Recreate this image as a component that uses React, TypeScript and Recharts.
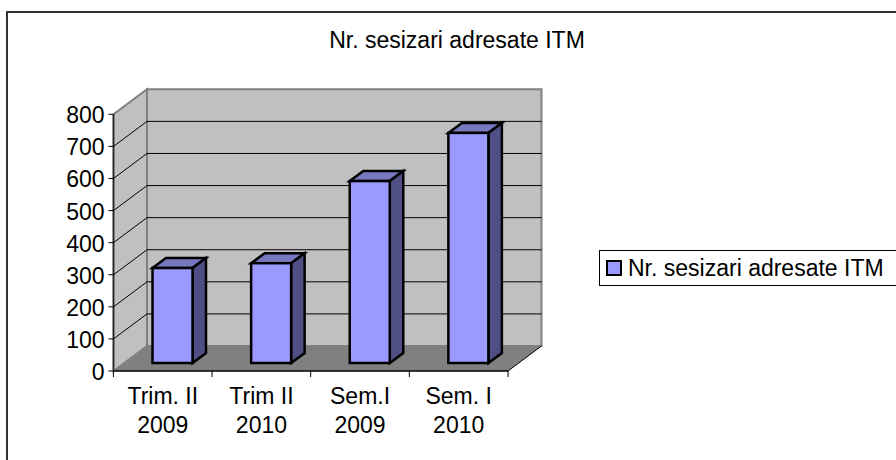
import { Bar, BarChart, CartesianGrid, XAxis, YAxis, usePlotArea } from 'recharts';

const categories = ['Trim. II|2009', 'Trim II|2010', 'Sem.I|2009', 'Sem. I|2010'];
const seriesName = 'Nr. sesizari adresate ITM';
const seriesValues = [296, 311, 567, 717];
const yTicks = [0, 100, 200, 300, 400, 500, 600, 700, 800];

const chartData = categories.map((name, i) => ({ name, value: seriesValues[i] }));

const FONT = '"Liberation Sans", Arial, sans-serif';
const FONT_SIZE = 23;
// 3D look: how far the back wall sits from the front plane
const WALL_DX = 33.5;
const WALL_DY = 25;
// bars stand part of the way into the floor
const BAR_DX = 10;
const BAR_DY = 8;
const BAR_DEPTH_X = 13.5;
const BAR_DEPTH_Y = 10;
const BAND = 98.75;

function Walls() {
  const plot = usePlotArea();
  if (!plot) return null;
  const { x, y, width, height } = plot;
  const left = x;
  const right = x + width;
  const top = y;
  const bottom = y + height;
  const bx = WALL_DX;
  const by = WALL_DY;
  return (
    <g>
      <polygon points={`${left + bx},${top - by} ${right + bx},${top - by} ${right + bx},${bottom - by} ${left + bx},${bottom - by}`} fill="#c0c0c0" stroke="#808080" strokeWidth={2} />
      <polygon points={`${left},${top} ${left + bx},${top - by} ${left + bx},${bottom - by} ${left},${bottom}`} fill="#c0c0c0" stroke="#808080" strokeWidth={2} />
      <polygon points={`${left},${bottom} ${left + bx},${bottom - by} ${right + bx},${bottom - by} ${right},${bottom}`} fill="#808080" />
      <line x1={right} y1={bottom} x2={right + bx} y2={bottom - by} stroke="#000" strokeWidth={1} />
      {/* the grid sits over the axis layer, so the two front edges are drawn here */}
      <line x1={left} y1={top} x2={left} y2={bottom} stroke="#222" strokeWidth={1.5} />
      <line x1={left} y1={bottom} x2={right} y2={bottom} stroke="#000" strokeWidth={1.5} />
    </g>
  );
}

// the grid draws its lines first, so the walls go in with its first line
function gridLine(props: any) {
  const { x1, x2, y1, index } = props;
  if (index === 0) return <Walls key="walls" />;
  if (index === yTicks.length - 1) return <g key="top" />;
  return (
    <path
      key={index}
      d={`M${x1},${y1} L${x1 + WALL_DX},${y1 - WALL_DY} L${x2 + WALL_DX},${y1 - WALL_DY}`}
      fill="none"
      stroke="#000"
      strokeWidth={1}
    />
  );
}

function Bar3D(props: any) {
  const { x, y, width, height } = props;
  const fx = x + BAR_DX;
  const fy = y - BAR_DY;
  const dx = BAR_DEPTH_X;
  const dy = BAR_DEPTH_Y;
  return (
    <g stroke="#000" strokeWidth={2.5} strokeLinejoin="miter">
      <polygon points={`${fx},${fy} ${fx + dx},${fy - dy} ${fx + width + dx},${fy - dy} ${fx + width},${fy}`} fill="#7878c0" />
      <polygon points={`${fx + width},${fy} ${fx + width + dx},${fy - dy} ${fx + width + dx},${fy + height - dy} ${fx + width},${fy + height}`} fill="#4f4f85" />
      <rect x={fx} y={fy} width={width} height={height} fill="#9999ff" />
    </g>
  );
}

function CategoryTick(props: any) {
  const { x, y, payload, index } = props;
  const lines = String(payload.value).split('|');
  const isLast = index === categories.length - 1;
  const axisY = y - 8;
  return (
    <g>
      <line x1={x - BAND / 2} y1={axisY} x2={x - BAND / 2} y2={axisY + 6} stroke="#000" />
      {isLast && <line x1={x + BAND / 2} y1={axisY} x2={x + BAND / 2} y2={axisY + 6} stroke="#000" />}
      <text x={x} y={axisY + 33} textAnchor="middle" fontSize={FONT_SIZE} fontFamily={FONT} fill="#000">
        {lines[0]}
      </text>
      <text x={x} y={axisY + 62} textAnchor="middle" fontSize={FONT_SIZE} fontFamily={FONT} fill="#000">
        {lines[1]}
      </text>
    </g>
  );
}

function ValueTick(props: any) {
  const { x, y, payload } = props;
  return (
    <g>
      <line x1={x + 4} y1={y} x2={x + 9} y2={y} stroke="#000" />
      <text x={x} y={y + 9} textAnchor="end" fontSize={FONT_SIZE} fontFamily={FONT} fill="#000">
        {payload.value}
      </text>
    </g>
  );
}

function LegendBox() {
  return (
    <div
      style={{
        position: 'absolute',
        left: 599,
        top: 250,
        width: 320,
        height: 34,
        border: '1.5px solid #000',
        background: '#fff',
        fontFamily: FONT,
        fontSize: FONT_SIZE,
        color: '#000',
      }}
    >
      <div style={{ position: 'absolute', left: 6, top: 8.5, width: 12, height: 12, background: '#9999ff', border: '2px solid #000' }} />
      <div style={{ position: 'absolute', left: 28, top: 4, lineHeight: '27px', whiteSpace: 'nowrap' }}>{seriesName}</div>
    </div>
  );
}

export default function App() {
  return (
    <div style={{ position: 'absolute', left: 0, top: 0, width: 896, height: 460, overflow: 'hidden', background: '#fff' }}>
      <div style={{ position: 'absolute', left: 6, top: 11, width: 1000, height: 1000, border: '2px solid #333' }} />
      <BarChart
        width={896}
        height={460}
        data={chartData}
        margin={{ top: 114.3, right: 388, bottom: 29, left: 53.5 }}
        style={{ position: 'absolute', left: 0, top: 0 }}
      >
        <CartesianGrid vertical={false} horizontal={gridLine} />
        <XAxis dataKey="name" height={60} interval={0} axisLine={false} tickLine={false} tick={<CategoryTick />} />
        <YAxis
          width={60}
          domain={[0, 800]}
          ticks={yTicks}
          interval={0}
          axisLine={false}
          tickLine={false}
          tickSize={5}
          tickMargin={4}
          tick={<ValueTick />}
        />
        <text x={457} y={48} textAnchor="middle" fontSize={FONT_SIZE} fontFamily={FONT} fill="#000">
          {seriesName}
        </text>
        <Bar dataKey="value" name={seriesName} barSize={40} isAnimationActive={false} shape={<Bar3D />} />
      </BarChart>
      <LegendBox />
    </div>
  );
}
